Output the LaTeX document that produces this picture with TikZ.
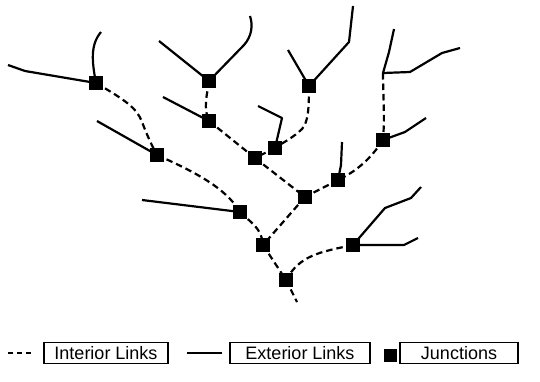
\documentclass[tikz,border=0pt]{standalone}
\usepackage{fontspec}
\setmainfont{Liberation Sans}
\begin{document}
\begin{tikzpicture}[x=1pt,y=-1pt,
  junction/.style={fill=black,minimum size=14.5pt,inner sep=0pt,outer sep=0pt},
  interior/.style={line width=2.2pt,dash pattern=on 6.5pt off 4pt},
  exterior/.style={line width=2.2pt,line join=round},
  legendbox/.style={draw,line width=1.5pt,minimum height=21pt,inner xsep=6pt,font=\fontsize{18}{18}\selectfont}]
\useasboundingbox (0,0) rectangle (540,381);

% junctions
\node[junction] (j1) at (96,83) {};
\node[junction] (j2) at (209,81) {};
\node[junction] (j3) at (209,121) {};
\node[junction] (j4) at (157,155) {};
\node[junction] (j5) at (255,158) {};
\node[junction] (j6) at (275,148) {};
\node[junction] (j7) at (309,86) {};
\node[junction] (j8) at (383,140) {};
\node[junction] (j9) at (338,180) {};
\node[junction] (j10) at (305,197) {};
\node[junction] (j11) at (240,212) {};
\node[junction] (j12) at (263,245) {};
\node[junction] (j13) at (353,245) {};
\node[junction] (j14) at (286,280) {};
\coordinate (fork) at (383,73);
\coordinate (outlet) at (297,302);

% interior links
\draw[interior] (j1.center) .. controls (125,100) and (137,108) .. (142,122) .. controls (147,135) and (152,146) .. (j4.center);
\draw[interior] (j2.center) .. controls (207,95) and (203,108) .. (j3.center);
\draw[interior] (j3.center) -- (j5.center);
\draw[interior] (j6.center) -- (j5.center);
\draw[interior] (j7.center) .. controls (309,110) and (308,122) .. (302,129) .. controls (294,137) and (284,142) .. (j6.center);
\draw[interior] (fork) .. controls (383,95) and (385,115) .. (j8.center);
\draw[interior] (j8.center) .. controls (370,160) and (355,172) .. (j9.center);
\draw[interior] (j5.center) -- (j10.center);
\draw[interior] (j9.center) -- (j10.center);
\draw[interior] (j4.center) .. controls (195,172) and (226,188) .. (j11.center);
\draw[interior] (j11.center) .. controls (250,222) and (262,228) .. (j12.center);
\draw[interior] (j10.center) -- (j12.center);
\draw[interior] (j12.center) -- (j14.center);
\draw[interior] (j13.center) .. controls (320,252) and (300,255) .. (j14.center);
\draw[interior] (j14.center) -- (outlet);

% exterior links
\draw[exterior] (j1.center) -- (25,71) -- (8,65);
\draw[exterior] (j1.center) .. controls (92,62) and (90,45) .. (101,32);
\draw[exterior] (j2.center) -- (159,41);
\draw[exterior] (j2.center) -- (244,45) .. controls (252,36) and (253,25) .. (250,16);
\draw[exterior] (j3.center) -- (163,97);
\draw[exterior] (j4.center) -- (97,121);
\draw[exterior] (j6.center) -- (282,118) -- (258,106);
\draw[exterior] (j7.center) -- (288,50);
\draw[exterior] (j7.center) -- (349,42) -- (353,6);
\draw[exterior] (fork) -- (389,52) -- (394,29);
\draw[exterior] (fork) -- (410,72) -- (442,53) -- (460,48);
\draw[exterior] (j8.center) -- (405,132) -- (426,118);
\draw[exterior] (j9.center) -- (341,165) -- (342,142);
\draw[exterior] (j11.center) -- (142,200);
\draw[exterior] (j13.center) -- (385,208) -- (411,198) -- (421,187);
\draw[exterior] (j13.center) -- (404,245) -- (418,238);

% legend
\coordinate (d1) at (8,353);
\coordinate (d2) at (32,353);
\draw[line width=2.2pt,dash pattern=on 5pt off 4pt] (d1) -- (d2);
\node[legendbox,minimum width=124pt] (li) at (106,353) {Interior Links};
\coordinate (s1) at (187,353);
\coordinate (s2) at (222,353);
\draw[exterior] (s1) -- (s2);
\node[legendbox,minimum width=140pt] (le) at (300,353) {Exterior Links};
\node[junction,minimum size=13pt] (lj) at (390,355) {};
\node[legendbox,minimum width=118pt] (ljb) at (459,353) {Junctions};
\end{tikzpicture}
\end{document}
